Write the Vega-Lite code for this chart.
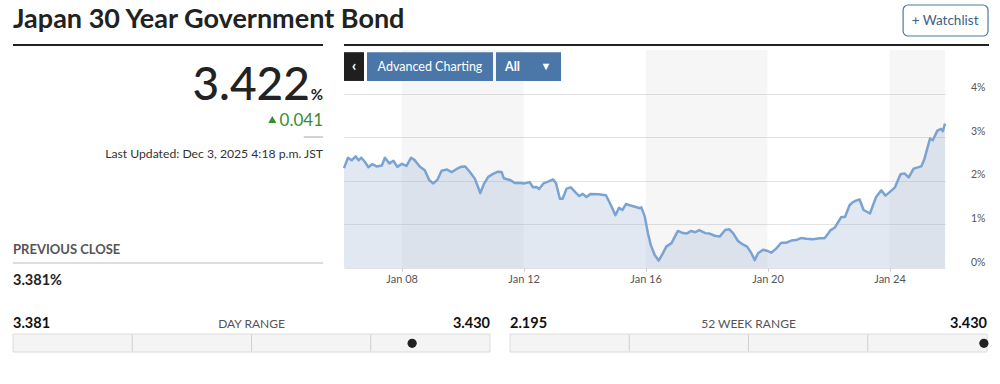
{
  "$schema": "https://vega.github.io/schema/vega-lite/v6.json",
  "background": "white",
  "padding": {"left": 12, "top": 0, "right": 0, "bottom": 0},
  "config": {"view": {"stroke": null}, "font": "Lato"},
  "spacing": 4,
  "vconcat": [
    {
      "width": 976,
      "height": 46,
      "data": {"values": [{"title": "Japan 30 Year Government Bond", "button": "+ Watchlist"}]},
      "layer": [
        {
          "mark": {"type": "text", "align": "left", "baseline": "alphabetic", "fontSize": 27, "fontWeight": "bold", "color": "#222222"},
          "encoding": {
            "x": {"datum": 0, "type": "quantitative", "scale": {"domain": [0, 1], "nice": false, "zero": false}, "axis": null},
            "y": {"datum": 0.6, "type": "quantitative", "scale": {"domain": [0, 1], "nice": false, "reverse": true}, "axis": null},
            "text": {"field": "title"}
          }
        },
        {
          "mark": {"type": "rect", "fill": "white", "stroke": "#4f77a1", "strokeWidth": 1.2, "cornerRadius": 5},
          "encoding": {"x": {"datum": 0.912}, "x2": {"datum": 0.999}, "y": {"datum": 0.109}, "y2": {"datum": 0.783}}
        },
        {
          "mark": {"type": "text", "align": "center", "baseline": "middle", "fontSize": 13.5, "color": "#3b6088"},
          "encoding": {"x": {"datum": 0.955}, "y": {"datum": 0.457}, "text": {"field": "button"}}
        },
        {
          "mark": {"type": "rule", "color": "#222222", "strokeWidth": 2},
          "encoding": {"x": {"datum": 0}, "x2": {"datum": 0.3176}, "y": {"datum": 0.978}}
        },
        {
          "mark": {"type": "rule", "color": "#222222", "strokeWidth": 2},
          "encoding": {"x": {"datum": 0.3391}, "x2": {"datum": 1}, "y": {"datum": 0.978}}
        }
      ]
    },
    {
      "spacing": 18,
      "hconcat": [
        {
          "width": 310,
          "height": 240,
          "data": {"values": [{"price": 3.422, "pct": "%", "change": 0.041, "updated": "Last Updated: Dec 3, 2025 4:18 p.m. JST", "prevLabel": "PREVIOUS CLOSE", "prevClose": "3.381%"}]},
          "layer": [
            {
              "mark": {"type": "text", "align": "right", "baseline": "alphabetic", "fontSize": 46, "fontWeight": 500, "color": "#222222"},
              "encoding": {
                "x": {"datum": 0.958, "type": "quantitative", "scale": {"domain": [0, 1], "nice": false, "zero": false}, "axis": null},
                "y": {"datum": 0.21, "type": "quantitative", "scale": {"domain": [0, 1], "nice": false, "reverse": true}, "axis": null},
                "text": {"field": "price", "format": ".3f"}
              }
            },
            {
              "mark": {"type": "text", "align": "right", "baseline": "alphabetic", "fontSize": 15, "fontWeight": "bold", "color": "#222222"},
              "encoding": {"x": {"datum": 1}, "y": {"datum": 0.21}, "text": {"field": "pct"}}
            },
            {
              "mark": {"type": "point", "shape": "triangle-up", "filled": true, "size": 65, "color": "#3c8a34", "opacity": 1},
              "encoding": {"x": {"datum": 0.8365}, "y": {"datum": 0.29}}
            },
            {
              "mark": {"type": "text", "align": "right", "baseline": "alphabetic", "fontSize": 17, "color": "#3c8a34"},
              "encoding": {"x": {"datum": 1}, "y": {"datum": 0.315}, "text": {"field": "change", "format": ".3f"}}
            },
            {
              "mark": {"type": "rule", "color": "#c4c4c4", "strokeWidth": 1.5},
              "encoding": {"x": {"datum": 0.938}, "x2": {"datum": 1}, "y": {"datum": 0.3625}}
            },
            {
              "mark": {"type": "text", "align": "right", "baseline": "alphabetic", "fontSize": 12.2, "color": "#333333"},
              "encoding": {"x": {"datum": 1}, "y": {"datum": 0.45}, "text": {"field": "updated"}}
            },
            {
              "mark": {"type": "text", "align": "left", "baseline": "alphabetic", "fontSize": 13, "fontWeight": "bold", "color": "#555555"},
              "encoding": {"x": {"datum": 0}, "y": {"datum": 0.85}, "text": {"field": "prevLabel"}}
            },
            {
              "mark": {"type": "rule", "color": "#dddddd", "strokeWidth": 2},
              "encoding": {"x": {"datum": 0}, "x2": {"datum": 1}, "y": {"datum": 0.8875}}
            },
            {
              "mark": {"type": "text", "align": "left", "baseline": "alphabetic", "fontSize": 14.5, "fontWeight": "bold", "color": "#222222"},
              "encoding": {"x": {"datum": 0}, "y": {"datum": 0.979}, "text": {"field": "prevClose"}}
            }
          ]
        },
        {
          "width": 601,
          "height": 218,
          "data": {"values": [
            {"day": 6.11, "yield": 2.29}, {"day": 6.24, "yield": 2.53}, {"day": 6.36, "yield": 2.47}, {"day": 6.49, "yield": 2.56},
            {"day": 6.59, "yield": 2.47}, {"day": 6.68, "yield": 2.53}, {"day": 6.80, "yield": 2.43}, {"day": 6.91, "yield": 2.31},
            {"day": 7.03, "yield": 2.38}, {"day": 7.18, "yield": 2.33}, {"day": 7.35, "yield": 2.35}, {"day": 7.45, "yield": 2.53},
            {"day": 7.60, "yield": 2.40}, {"day": 7.73, "yield": 2.46}, {"day": 7.86, "yield": 2.32}, {"day": 8.01, "yield": 2.39},
            {"day": 8.16, "yield": 2.34}, {"day": 8.31, "yield": 2.53}, {"day": 8.42, "yield": 2.48}, {"day": 8.60, "yield": 2.32},
            {"day": 8.76, "yield": 2.24}, {"day": 8.91, "yield": 2.01}, {"day": 9.04, "yield": 1.94}, {"day": 9.17, "yield": 2.02},
            {"day": 9.31, "yield": 2.23}, {"day": 9.49, "yield": 2.26}, {"day": 9.64, "yield": 2.20}, {"day": 9.78, "yield": 2.26},
            {"day": 9.94, "yield": 2.32}, {"day": 10.08, "yield": 2.33}, {"day": 10.22, "yield": 2.22}, {"day": 10.40, "yield": 2.05},
            {"day": 10.58, "yield": 1.72}, {"day": 10.70, "yield": 1.93}, {"day": 10.84, "yield": 2.09}, {"day": 11.00, "yield": 2.16},
            {"day": 11.16, "yield": 2.21}, {"day": 11.28, "yield": 2.20}, {"day": 11.35, "yield": 2.06}, {"day": 11.55, "yield": 2.02},
            {"day": 11.71, "yield": 1.95}, {"day": 11.89, "yield": 1.95}, {"day": 12.04, "yield": 1.94}, {"day": 12.20, "yield": 1.97},
            {"day": 12.31, "yield": 1.85}, {"day": 12.42, "yield": 1.86}, {"day": 12.51, "yield": 1.81}, {"day": 12.65, "yield": 1.94},
            {"day": 12.80, "yield": 1.98}, {"day": 12.97, "yield": 2.03}, {"day": 13.06, "yield": 1.95}, {"day": 13.19, "yield": 1.59},
            {"day": 13.28, "yield": 1.59}, {"day": 13.41, "yield": 1.82}, {"day": 13.55, "yield": 1.85}, {"day": 13.71, "yield": 1.73},
            {"day": 13.83, "yield": 1.65}, {"day": 13.94, "yield": 1.70}, {"day": 14.06, "yield": 1.63}, {"day": 14.20, "yield": 1.70},
            {"day": 14.45, "yield": 1.69}, {"day": 14.70, "yield": 1.67}, {"day": 14.80, "yield": 1.53}, {"day": 14.91, "yield": 1.37},
            {"day": 15.01, "yield": 1.21}, {"day": 15.13, "yield": 1.38}, {"day": 15.24, "yield": 1.33}, {"day": 15.36, "yield": 1.47},
            {"day": 15.48, "yield": 1.44}, {"day": 15.68, "yield": 1.40}, {"day": 15.81, "yield": 1.37}, {"day": 15.86, "yield": 1.39},
            {"day": 15.97, "yield": 1.19}, {"day": 16.08, "yield": 0.79}, {"day": 16.17, "yield": 0.53}, {"day": 16.30, "yield": 0.30},
            {"day": 16.43, "yield": 0.17}, {"day": 16.57, "yield": 0.34}, {"day": 16.68, "yield": 0.49}, {"day": 16.85, "yield": 0.57},
            {"day": 17.06, "yield": 0.85}, {"day": 17.19, "yield": 0.81}, {"day": 17.34, "yield": 0.79}, {"day": 17.50, "yield": 0.85},
            {"day": 17.63, "yield": 0.82}, {"day": 17.76, "yield": 0.87}, {"day": 17.96, "yield": 0.80}, {"day": 18.10, "yield": 0.79},
            {"day": 18.27, "yield": 0.74}, {"day": 18.43, "yield": 0.72}, {"day": 18.61, "yield": 0.87}, {"day": 18.74, "yield": 0.89},
            {"day": 18.87, "yield": 0.80}, {"day": 19.03, "yield": 0.62}, {"day": 19.19, "yield": 0.54}, {"day": 19.33, "yield": 0.49},
            {"day": 19.47, "yield": 0.34}, {"day": 19.58, "yield": 0.18}, {"day": 19.69, "yield": 0.34}, {"day": 19.85, "yield": 0.42},
            {"day": 20.01, "yield": 0.39}, {"day": 20.12, "yield": 0.35}, {"day": 20.29, "yield": 0.45}, {"day": 20.45, "yield": 0.58},
            {"day": 20.62, "yield": 0.58}, {"day": 20.78, "yield": 0.63}, {"day": 20.94, "yield": 0.64}, {"day": 21.11, "yield": 0.69},
            {"day": 21.27, "yield": 0.67}, {"day": 21.49, "yield": 0.66}, {"day": 21.71, "yield": 0.68}, {"day": 21.87, "yield": 0.68},
            {"day": 21.99, "yield": 0.79}, {"day": 22.07, "yield": 0.87}, {"day": 22.21, "yield": 0.93}, {"day": 22.42, "yield": 1.17},
            {"day": 22.54, "yield": 1.17}, {"day": 22.69, "yield": 1.44}, {"day": 22.80, "yield": 1.51}, {"day": 22.92, "yield": 1.55},
            {"day": 23.02, "yield": 1.57}, {"day": 23.15, "yield": 1.33}, {"day": 23.36, "yield": 1.25}, {"day": 23.56, "yield": 1.63},
            {"day": 23.73, "yield": 1.78}, {"day": 23.87, "yield": 1.66}, {"day": 24.07, "yield": 1.78}, {"day": 24.18, "yield": 1.85},
            {"day": 24.36, "yield": 2.15}, {"day": 24.49, "yield": 2.17}, {"day": 24.63, "yield": 2.08}, {"day": 24.79, "yield": 2.28},
            {"day": 25.04, "yield": 2.33}, {"day": 25.14, "yield": 2.49}, {"day": 25.33, "yield": 2.97}, {"day": 25.42, "yield": 2.93},
            {"day": 25.57, "yield": 3.15}, {"day": 25.69, "yield": 3.19}, {"day": 25.75, "yield": 3.14}, {"day": 25.82, "yield": 3.31}
          ]},
          "layer": [
            {
              "data": {"values": [{"start": 8, "end": 12}, {"start": 16, "end": 20}, {"start": 24, "end": 25.82}]},
              "mark": {"type": "rect", "fill": "#000000", "opacity": 0.035},
              "encoding": {
                "x": {"field": "start", "type": "quantitative"},
                "x2": {"field": "end"},
                "y": {"datum": 0, "type": "quantitative"},
                "y2": {"datum": 5}
              }
            },
            {
              "mark": {"type": "area", "color": "#9db4d0", "opacity": 0.3},
              "encoding": {
                "x": {"field": "day", "type": "quantitative", "scale": {"domain": [6.11, 25.82], "nice": false, "zero": false},
                  "axis": {"values": [8, 12, 16, 20, 24], "labelExpr": "'Jan ' + (datum.value < 10 ? '0' : '') + datum.value", "title": null, "grid": false, "domain": false, "ticks": true, "tickSize": 3, "tickColor": "#cccccc", "labelPadding": 2, "labelFontSize": 11, "labelColor": "#555555", "labelFont": "Lato"}},
                "y": {"field": "yield", "type": "quantitative", "scale": {"domain": [0, 5], "nice": false, "zero": true},
                  "axis": {"orient": "right", "values": [0, 1, 2, 3, 4], "labelExpr": "datum.value + '%'", "title": null, "grid": true, "gridColor": "#e3e3e3", "gridWidth": 1, "domain": false, "ticks": false, "tickSize": 0, "labelPadding": 40, "labelAlign": "right", "labelBaseline": "alphabetic", "labelOffset": -3, "labelFontSize": 10.5, "labelColor": "#555555", "labelFont": "Lato"}}
              }
            },
            {
              "mark": {"type": "line", "color": "#7aa3d4", "strokeWidth": 2.5, "strokeJoin": "round"},
              "encoding": {
                "x": {"field": "day", "type": "quantitative"},
                "y": {"field": "yield", "type": "quantitative"}
              }
            },
            {
              "data": {"values": [{"label": "‹"}]},
              "layer": [
                {
                  "mark": {"type": "rect", "fill": "#1f1f1f"},
                  "encoding": {"x": {"datum": 6.11, "type": "quantitative"}, "x2": {"datum": 6.766}, "y": {"datum": 4.95, "type": "quantitative"}, "y2": {"datum": 4.29}}
                },
                {
                  "mark": {"type": "text", "align": "center", "baseline": "middle", "fontSize": 16, "fontWeight": "bold", "color": "white"},
                  "encoding": {"x": {"datum": 6.44, "type": "quantitative"}, "y": {"datum": 4.64, "type": "quantitative"}, "text": {"field": "label"}}
                }
              ]
            },
            {
              "data": {"values": [{"label": "Advanced Charting", "start": 6.864, "end": 10.997, "mid": 8.93}]},
              "layer": [
                {
                  "mark": {"type": "rect", "fill": "#4a77a8"},
                  "encoding": {"x": {"field": "start", "type": "quantitative"}, "x2": {"field": "end"}, "y": {"datum": 4.95, "type": "quantitative"}, "y2": {"datum": 4.29}}
                },
                {
                  "mark": {"type": "text", "align": "center", "baseline": "middle", "fontSize": 12.5, "color": "white"},
                  "encoding": {"x": {"field": "mid", "type": "quantitative"}, "y": {"datum": 4.62, "type": "quantitative"}, "text": {"field": "label"}}
                }
              ]
            },
            {
              "data": {"values": [{"label": "All", "arrow": "▼", "start": 11.095, "end": 13.227, "textAt": 11.39, "arrowAt": 12.735}]},
              "layer": [
                {
                  "mark": {"type": "rect", "fill": "#4a77a8"},
                  "encoding": {"x": {"field": "start", "type": "quantitative"}, "x2": {"field": "end"}, "y": {"datum": 4.95, "type": "quantitative"}, "y2": {"datum": 4.29}}
                },
                {
                  "mark": {"type": "text", "align": "left", "baseline": "middle", "fontSize": 12.5, "fontWeight": "bold", "color": "white"},
                  "encoding": {"x": {"field": "textAt", "type": "quantitative"}, "y": {"datum": 4.62, "type": "quantitative"}, "text": {"field": "label"}}
                },
                {
                  "mark": {"type": "text", "align": "center", "baseline": "middle", "fontSize": 11, "color": "white"},
                  "encoding": {"x": {"field": "arrowAt", "type": "quantitative"}, "y": {"datum": 4.62, "type": "quantitative"}, "text": {"field": "arrow"}}
                }
              ]
            }
          ]
        }
      ]
    },
    {
      "spacing": 18,
      "hconcat": [
        {
          "width": 477,
          "height": 58,
          "data": {"values": [{"label": "DAY RANGE", "low": 3.381, "high": 3.430, "mid": 3.4055, "current": 3.422}]},
          "layer": [
            {
              "mark": {"type": "rect", "fill": "#f4f4f4", "stroke": "#dcdcdc", "strokeWidth": 1},
              "encoding": {
                "x": {"field": "low", "type": "quantitative", "scale": {"domain": [3.381, 3.430], "nice": false, "zero": false}, "axis": null},
                "x2": {"field": "high"},
                "y": {"datum": 0.69, "type": "quantitative", "scale": {"domain": [0, 1], "nice": false, "reverse": true}, "axis": null},
                "y2": {"datum": 1}
              }
            },
            {
              "data": {"values": [{"q": 3.39325}, {"q": 3.4055}, {"q": 3.41775}]},
              "mark": {"type": "rule", "color": "#cfcfcf", "strokeWidth": 1},
              "encoding": {"x": {"field": "q", "type": "quantitative"}, "y": {"datum": 0.7, "type": "quantitative"}, "y2": {"datum": 0.99}}
            },
            {
              "mark": {"type": "point", "filled": true, "size": 85, "color": "#222222", "opacity": 1},
              "encoding": {"x": {"field": "current", "type": "quantitative"}, "y": {"datum": 0.85, "type": "quantitative"}}
            },
            {
              "mark": {"type": "text", "align": "left", "baseline": "alphabetic", "fontSize": 14.5, "fontWeight": "bold", "color": "#111111"},
              "encoding": {"x": {"field": "low", "type": "quantitative"}, "y": {"datum": 0.581, "type": "quantitative"}, "text": {"field": "low", "format": ".3f"}}
            },
            {
              "mark": {"type": "text", "align": "right", "baseline": "alphabetic", "fontSize": 14.5, "fontWeight": "bold", "color": "#111111"},
              "encoding": {"x": {"field": "high", "type": "quantitative"}, "y": {"datum": 0.581, "type": "quantitative"}, "text": {"field": "high", "format": ".3f"}}
            },
            {
              "mark": {"type": "text", "align": "center", "baseline": "alphabetic", "fontSize": 12, "color": "#555555"},
              "encoding": {"x": {"field": "mid", "type": "quantitative"}, "y": {"datum": 0.581, "type": "quantitative"}, "text": {"field": "label"}}
            }
          ]
        },
        {
          "width": 477,
          "height": 58,
          "data": {"values": [{"label": "52 WEEK RANGE", "low": 2.195, "high": 3.430, "mid": 2.8125, "current": 3.422}]},
          "layer": [
            {
              "mark": {"type": "rect", "fill": "#f4f4f4", "stroke": "#dcdcdc", "strokeWidth": 1},
              "encoding": {
                "x": {"field": "low", "type": "quantitative", "scale": {"domain": [2.195, 3.430], "nice": false, "zero": false}, "axis": null},
                "x2": {"field": "high"},
                "y": {"datum": 0.69, "type": "quantitative", "scale": {"domain": [0, 1], "nice": false, "reverse": true}, "axis": null},
                "y2": {"datum": 1}
              }
            },
            {
              "data": {"values": [{"q": 2.50375}, {"q": 2.8125}, {"q": 3.12125}]},
              "mark": {"type": "rule", "color": "#cfcfcf", "strokeWidth": 1},
              "encoding": {"x": {"field": "q", "type": "quantitative"}, "y": {"datum": 0.7, "type": "quantitative"}, "y2": {"datum": 0.99}}
            },
            {
              "mark": {"type": "point", "filled": true, "size": 85, "color": "#222222", "opacity": 1},
              "encoding": {"x": {"field": "current", "type": "quantitative"}, "y": {"datum": 0.85, "type": "quantitative"}}
            },
            {
              "mark": {"type": "text", "align": "left", "baseline": "alphabetic", "fontSize": 14.5, "fontWeight": "bold", "color": "#111111"},
              "encoding": {"x": {"field": "low", "type": "quantitative"}, "y": {"datum": 0.581, "type": "quantitative"}, "text": {"field": "low", "format": ".3f"}}
            },
            {
              "mark": {"type": "text", "align": "right", "baseline": "alphabetic", "fontSize": 14.5, "fontWeight": "bold", "color": "#111111"},
              "encoding": {"x": {"field": "high", "type": "quantitative"}, "y": {"datum": 0.581, "type": "quantitative"}, "text": {"field": "high", "format": ".3f"}}
            },
            {
              "mark": {"type": "text", "align": "center", "baseline": "alphabetic", "fontSize": 12, "color": "#555555"},
              "encoding": {"x": {"field": "mid", "type": "quantitative"}, "y": {"datum": 0.581, "type": "quantitative"}, "text": {"field": "label"}}
            }
          ]
        }
      ]
    }
  ]
}
